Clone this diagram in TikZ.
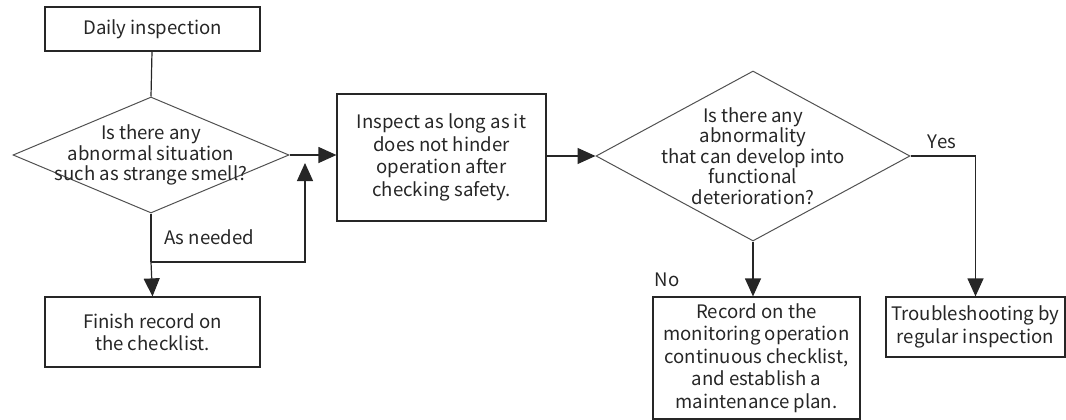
\documentclass[tikz,border=0pt]{standalone}
\usepackage{fontspec}
\setmainfont{Noto Sans CJK KR}
\usetikzlibrary{positioning, shapes.geometric, arrows.meta, calc}

\definecolor{inkgray}{HTML}{262626}

\tikzset{
  box/.style={draw=inkgray, line width=1.2pt, align=center, inner sep=0pt},
  decision/.style={diamond, draw=inkgray!80, line width=1pt, inner sep=0pt},
  flow/.style={draw=inkgray, line width=1.2pt},
  arrow/.style={flow, -{Triangle[length=18pt,width=16pt]}}
}

\begin{document}
\begin{tikzpicture}[x=1pt, y=-1pt, font=\fontsize{18.6}{22.5}\selectfont, text=inkgray]
      \useasboundingbox (0,0) rectangle (1066,420);

      % Left column
      \node[box, minimum width=215pt, minimum height=44pt] (daily) at (152.5,29) {Daily inspection};
      \node[decision, minimum width=276pt, minimum height=116pt,
            label={[align=center, font=\fontsize{18.6}{20.5}\selectfont]center:Is there any\\abnormal situation\\such as strange smell?}]
            (ask1) at (151,155) {};
      \node[box, minimum width=215pt, minimum height=70pt] (finish) at (152.5,332) {Finish record on\\the checklist.};
      \node (needed) at (209,237) {As needed};

      % Middle
      \node[box, minimum width=209pt, minimum height=127pt] (inspect) at (441.5,157.5)
            {Inspect as long as it\\does not hinder\\operation after\\checking safety.};

      % Right part
      \node[decision, minimum width=314pt, minimum height=170pt,
            label={[align=center, font=\fontsize{18.6}{20.5}\selectfont]center:Is there any\\abnormality\\that can develop into\\functional\\deterioration?}]
            (ask2) at (753,156) {};
      \node[box, minimum width=207pt, minimum height=122pt] (record) at (756.5,358)
            {Record on the\\monitoring operation\\continuous checklist,\\and establish a\\maintenance plan.};
      \node[box, minimum width=179pt, minimum height=60pt] (trouble) at (975.5,327)
            {Troubleshooting by\\regular inspection};
      \node (yes) at (942,142) {Yes};
      \node (no) at (667,280) {No};

      \coordinate (split) at (151,262);
      \coordinate (back) at (305,163);

      % Connectors
      \draw[flow] (daily) -- (ask1.north);
      \draw[arrow] (ask1.east) -- (inspect.west |- ask1.east);
      \draw[flow] (ask1.south) -- (split);
      \draw[arrow] (split) -- (finish.north);
      \draw[arrow] (split) -| (back);
      \draw[arrow] (inspect.east |- ask2.west) -- (ask2.west);
      \draw[arrow] (ask2.south) -- (ask2.south |- record.north);
      \draw[arrow] (ask2.east) -| (trouble.north);
    \end{tikzpicture}
\end{document}
